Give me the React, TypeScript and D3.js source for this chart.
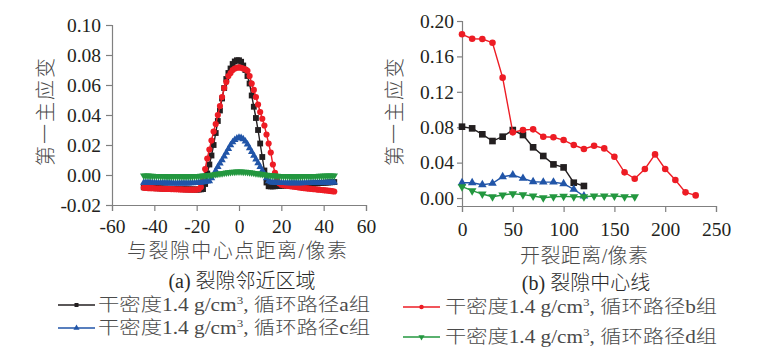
import React, { useRef, useEffect } from 'react';
import * as d3 from 'd3';

// (a) 裂隙邻近区域: distance from crack centre, one sample per pixel
const nearX = d3.range(-45, 46);

const nearA = [
  -0.0082, -0.0083, -0.0084, -0.0085, -0.0086, -0.0087, -0.0088, -0.0088, -0.0089, -0.0090,
  -0.0090, -0.0091, -0.0091, -0.0092, -0.0092, -0.0093, -0.0093, -0.0094, -0.0094, -0.0095,
  -0.0095, -0.0096, -0.0096, -0.0096, -0.0097, -0.0097, -0.0097, -0.0096, -0.0094,
  -0.0060, 0.0010, 0.0070, 0.0130, 0.0200, 0.0280, 0.0360, 0.0430, 0.0510, 0.0580,
  0.0640, 0.0680, 0.0710, 0.0740, 0.0757, 0.0765, 0.0765, 0.0755, 0.0730, 0.0700,
  0.0660, 0.0610, 0.0530, 0.0455, 0.0380, 0.0300, 0.0210, 0.0120, 0.0030, -0.0050, -0.0075,
  -0.0076, -0.0076, -0.0075, -0.0074, -0.0073, -0.0072, -0.0071, -0.0070, -0.0069, -0.0068,
  -0.0067, -0.0066, -0.0065, -0.0064, -0.0063, -0.0062, -0.0061, -0.0060, -0.0059, -0.0058,
  -0.0057, -0.0056, -0.0055, -0.0054, -0.0053, -0.0052, -0.0051, -0.0050, -0.0049, -0.0048, -0.0047
];

const nearB = [
  -0.0085, -0.0086, -0.0087, -0.0088, -0.0088, -0.0089, -0.0090, -0.0090, -0.0091, -0.0092,
  -0.0092, -0.0093, -0.0093, -0.0094, -0.0094, -0.0095, -0.0095, -0.0096, -0.0096, -0.0097,
  -0.0097, -0.0097, -0.0098, -0.0098, -0.0098, -0.0097, -0.0095,
  -0.0080, -0.0040, 0.0040, 0.0110, 0.0170, 0.0230, 0.0290, 0.0340, 0.0400, 0.0460,
  0.0520, 0.0580, 0.0620, 0.0660, 0.0680, 0.0700, 0.0710, 0.0715, 0.0717, 0.0715,
  0.0710, 0.0705, 0.0695, 0.0660, 0.0610, 0.0567, 0.0520, 0.0470, 0.0420, 0.0375,
  0.0330, 0.0270, 0.0210, 0.0150, 0.0070, 0.0015, -0.0030, -0.0055, -0.0065,
  -0.0068, -0.0070, -0.0072, -0.0074, -0.0076, -0.0078, -0.0080, -0.0082, -0.0084, -0.0086,
  -0.0088, -0.0089, -0.0091, -0.0092, -0.0094, -0.0095, -0.0097, -0.0098, -0.0100, -0.0101,
  -0.0103, -0.0104, -0.0106, -0.0108, -0.0110
];

const nearC = [
  -0.0050, -0.0050, -0.0051, -0.0051, -0.0052, -0.0052, -0.0052, -0.0053, -0.0053, -0.0053,
  -0.0054, -0.0054, -0.0054, -0.0054, -0.0055, -0.0055, -0.0055, -0.0055, -0.0055, -0.0055,
  -0.0055, -0.0055, -0.0054, -0.0054, -0.0053, -0.0052, -0.0051, -0.0050, -0.0048, -0.0046, -0.0043,
  -0.0040, -0.0020, 0.0000, 0.0030, 0.0055, 0.0078, 0.0100, 0.0125, 0.0150, 0.0175,
  0.0200, 0.0220, 0.0235, 0.0245, 0.0250, 0.0248, 0.0240, 0.0225, 0.0205, 0.0180,
  0.0155, 0.0130, 0.0105, 0.0080, 0.0055, 0.0030, 0.0005, -0.0020, -0.0040, -0.0048,
  -0.0050, -0.0051, -0.0052, -0.0052, -0.0053, -0.0053, -0.0053, -0.0054, -0.0054, -0.0054,
  -0.0054, -0.0054, -0.0054, -0.0054, -0.0054, -0.0053, -0.0053, -0.0053, -0.0053, -0.0052,
  -0.0052, -0.0052, -0.0051, -0.0051, -0.0051, -0.0050, -0.0050, -0.0050, -0.0049, -0.0049
];

const nearD = [
  -0.0004, -0.0005, -0.0005, -0.0006, -0.0006, -0.0007, -0.0007, -0.0007, -0.0008, -0.0008,
  -0.0008, -0.0009, -0.0009, -0.0009, -0.0010, -0.0010, -0.0010, -0.0010, -0.0010, -0.0010,
  -0.0010, -0.0010, -0.0009, -0.0009, -0.0008, -0.0008, -0.0007, -0.0006, -0.0005, -0.0004,
  -0.0003, -0.0001, 0.0001, 0.0003, 0.0005, 0.0007, 0.0009, 0.0011, 0.0013, 0.0015,
  0.0017, 0.0019, 0.0020, 0.0021, 0.0022, 0.0022, 0.0022, 0.0021, 0.0020, 0.0019,
  0.0017, 0.0015, 0.0013, 0.0011, 0.0009, 0.0007, 0.0005, 0.0003, 0.0001, -0.0001, -0.0003,
  -0.0004, -0.0005, -0.0006, -0.0007, -0.0007, -0.0008, -0.0008, -0.0008, -0.0009, -0.0009,
  -0.0009, -0.0009, -0.0009, -0.0009, -0.0009, -0.0008, -0.0008, -0.0008, -0.0008, -0.0007,
  -0.0007, -0.0007, -0.0006, -0.0006, -0.0006, -0.0005, -0.0005, -0.0005, -0.0004, -0.0004
];

// (b) 裂隙中心线: crack length, every 10 px
const lineX = [0, 10, 20, 30, 40, 50, 60, 70, 80, 90, 100, 110, 120, 130, 140, 150, 160, 170, 180, 190, 200, 210, 220, 230];
const lineA = [0.0806, 0.0787, 0.0720, 0.0644, 0.0693, 0.0768, 0.0712, 0.0573, 0.0475, 0.0380, 0.0346, 0.0173, 0.0136];
const lineB = [0.185, 0.180, 0.1797, 0.1755, 0.136, 0.0742, 0.0768, 0.0776, 0.0693, 0.0686, 0.0655, 0.0599,
  0.0554, 0.0590, 0.0561, 0.0467, 0.0290, 0.0218, 0.0328, 0.0493, 0.0328, 0.0203, 0.0064, 0.0030];
const lineC = [0.0173, 0.0173, 0.0150, 0.0166, 0.0241, 0.0260, 0.0222, 0.0184, 0.0180, 0.0180, 0.0162, 0.0098, 0.0023];
const lineD = [0.0128, 0.0083, 0.0045, 0.0015, 0.0034, 0.0049, 0.0038, 0.0023, 0.0004, 0.0015, 0.0019, 0.0015,
  0.0015, 0.0023, 0.0023, 0.0023, 0.0015, 0.0015];

const nearXTicks = [-60, -40, -20, 0, 20, 40, 60];
const nearYTicks = [-0.02, 0, 0.02, 0.04, 0.06, 0.08, 0.10];
const lineXTicks = [0, 50, 100, 150, 200, 250];
const lineYTicks = [0, 0.04, 0.08, 0.12, 0.16, 0.20];

const groups = ['a', 'b', 'c', 'd'];
const groupColors = { a: '#231f20', b: '#ed1c24', c: '#2155a8', d: '#23973f' };
const groupSymbols = { a: d3.symbolSquare, b: d3.symbolCircle, c: d3.symbolTriangle, d: d3.symbolTriangle };

const SERIF = '"Liberation Serif", "Times New Roman", serif';
const MIXED = '"Liberation Serif", "Noto Sans CJK SC", serif';
const CJK_FILL = '#4a4a4a';

const App = () => {
  const ref = useRef<SVGSVGElement>(null);

  useEffect(() => {
    document.body.style.margin = '0';
    const svg = d3.select(ref.current);
    svg.selectAll('*').remove();

    const drawPanel = (p: any) => {
      const { x, y, xTicks, yTicks, ySize, yPad, xPad } = p;
      const g = svg.append('g');

      // axes
      const ax = g.append('g')
        .attr('transform', `translate(0,${y.range()[0]})`)
        .call(d3.axisBottom(x).tickValues(xTicks).tickSize(6).tickPadding(xPad).tickFormat((d: any) => String(d)));
      const ay = g.append('g')
        .attr('transform', `translate(${x.range()[0]},0)`)
        .call(d3.axisLeft(y).tickValues(yTicks).tickSize(ySize).tickPadding(yPad).tickFormat((d: any) => d.toFixed(2)));
      [ax, ay].forEach(a => {
        a.attr('font-family', null);
        a.select('.domain').attr('stroke', '#808080').attr('stroke-width', 1.2);
        a.selectAll('.tick line').attr('stroke', '#808080').attr('stroke-width', 1.2);
        a.selectAll('text').attr('fill', '#231f20').style('font-family', SERIF).style('font-size', '19.5px');
      });

      // series, a first so later groups sit on top
      p.series.forEach((s: any) => {
        const pts = s.values.map((v: number, i: number) => [s.xs[i], v]);
        const line = d3.line().x((d: any) => x(d[0])).y((d: any) => y(d[1]));
        g.append('path')
          .datum(pts)
          .attr('fill', 'none')
          .attr('stroke', groupColors[s.key])
          .attr('stroke-width', 1.4)
          .attr('d', line);
        g.selectAll(null)
          .data(pts)
          .enter()
          .append('path')
          .attr('d', d3.symbol().type(groupSymbols[s.key]).size(p.symbolSizes[s.key]))
          .attr('transform', (d: any) => `translate(${x(d[0])},${y(d[1])})${s.key === 'd' ? ' rotate(180)' : ''}`)
          .attr('fill', groupColors[s.key]);
      });

      // axis titles
      g.append('text')
        .attr('x', p.xLabel.x).attr('y', p.xLabel.y)
        .attr('text-anchor', 'middle')
        .attr('fill', CJK_FILL)
        .style('font-family', MIXED).style('font-size', '20px').style('font-weight', 300)
        .attr('textLength', p.xLabel.len).attr('lengthAdjust', 'spacing')
        .text(p.xLabel.text);
      g.append('text')
        .attr('transform', `translate(${p.yLabel.x},${p.yLabel.y}) rotate(-90)`)
        .attr('text-anchor', 'middle')
        .attr('dy', '0.35em')
        .attr('fill', CJK_FILL)
        .style('font-family', MIXED).style('font-size', '20px').style('font-weight', 300)
        .attr('textLength', 108).attr('lengthAdjust', 'spacing')
        .text('第一主应变');
      g.append('text')
        .attr('x', p.title.x).attr('y', p.title.y)
        .attr('text-anchor', 'middle')
        .attr('fill', '#2a2a2a')
        .style('font-family', MIXED).style('font-size', '20px').style('font-weight', 300)
        .text(p.title.text);
    };

    drawPanel({
      x: d3.scaleLinear().domain([-60, 60]).range([112, 366]),
      y: d3.scaleLinear().domain([-0.02, 0.10]).range([205, 25]),
      xTicks: nearXTicks, yTicks: nearYTicks, ySize: 6, yPad: 5, xPad: 8,
      symbolSizes: { a: 34, b: 30, c: 24, d: 24 },
      series: [
        { key: 'a', xs: nearX, values: nearA },
        { key: 'b', xs: nearX, values: nearB },
        { key: 'c', xs: nearX, values: nearC },
        { key: 'd', xs: nearX, values: nearD }
      ],
      xLabel: { x: 237, y: 258, len: 220, text: '与裂隙中心点距离/像素' },
      yLabel: { x: 46, y: 112 },
      title: { x: 242, y: 288, text: '(a) 裂隙邻近区域' }
    });

    drawPanel({
      x: d3.scaleLinear().domain([0, 250]).range([462, 716]),
      y: d3.scaleLinear().domain([-0.009, 0.20]).range([206, 21]),
      xTicks: lineXTicks, yTicks: lineYTicks, ySize: 5, yPad: 3, xPad: 10,
      symbolSizes: { a: 44, b: 34, c: 32, d: 32 },
      series: [
        { key: 'a', xs: lineX, values: lineA },
        { key: 'b', xs: lineX, values: lineB },
        { key: 'c', xs: lineX, values: lineC },
        { key: 'd', xs: lineX, values: lineD }
      ],
      xLabel: { x: 584, y: 263, len: 128, text: '开裂距离/像素' },
      yLabel: { x: 395, y: 112 },
      title: { x: 586, y: 290, text: '(b) 裂隙中心线' }
    });

    // legend
    const legendPos = {
      a: { x: 58, y: 305 },
      c: { x: 58, y: 328 },
      b: { x: 403, y: 307 },
      d: { x: 403, y: 337 }
    };
    groups.forEach(k => {
      const pos = legendPos[k];
      const lg = svg.append('g').attr('transform', `translate(${pos.x},${pos.y})`);
      lg.append('line').attr('x1', 0).attr('x2', 37).attr('y1', 0).attr('y2', 0)
        .attr('stroke', groupColors[k]).attr('stroke-width', 1.4);
      lg.append('path')
        .attr('d', d3.symbol().type(groupSymbols[k]).size(16))
        .attr('transform', `translate(18.5,0)${k === 'd' ? ' rotate(180)' : ''}`)
        .attr('fill', groupColors[k]);
      const t = lg.append('text')
        .attr('x', k === 'a' || k === 'c' ? 40 : 42)
        .attr('y', 0).attr('dy', '0.36em')
        .attr('fill', CJK_FILL)
        .style('font-family', MIXED).style('font-size', '18px').style('font-weight', 300)
        .attr('textLength', 272).attr('lengthAdjust', 'spacingAndGlyphs');
      t.append('tspan').text('干密度1.4 g/cm');
      t.append('tspan').attr('dy', -7).style('font-size', '11px').text('3');
      t.append('tspan').attr('dy', 7).text(`, 循环路径${k}组`);
    });
  }, []);

  return <svg ref={ref} width={757} height={364} style={{ display: 'block', background: '#fff' }} />;
};

export default App;
